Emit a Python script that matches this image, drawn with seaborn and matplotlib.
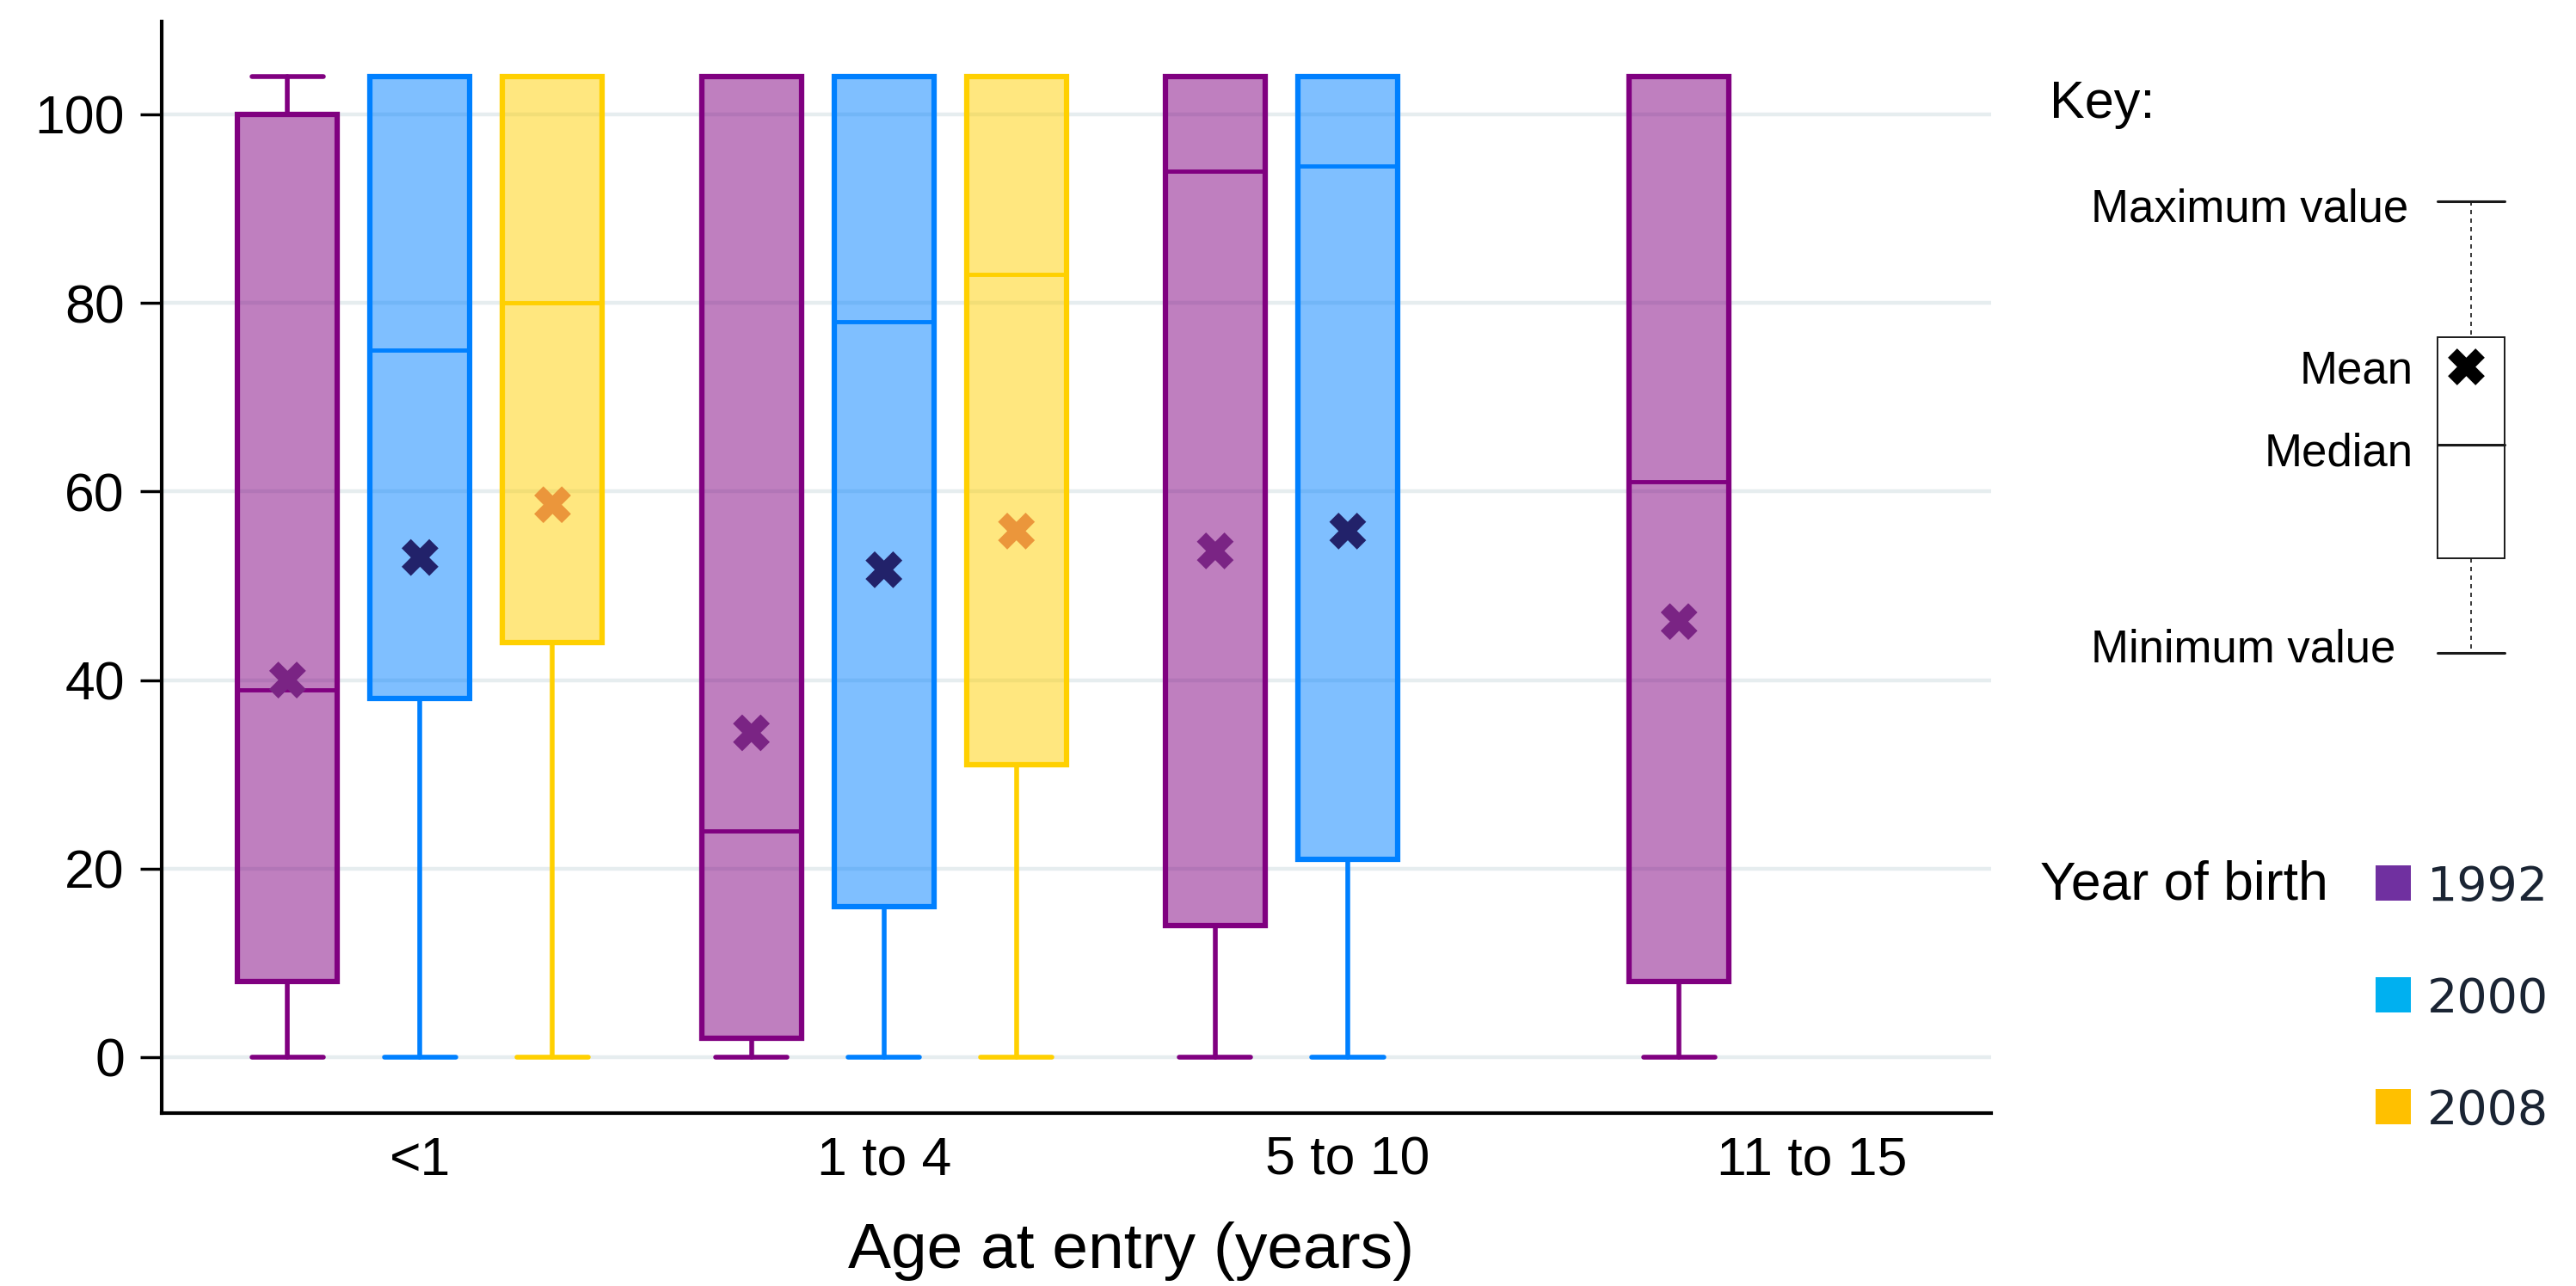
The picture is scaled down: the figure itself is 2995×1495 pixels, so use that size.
import matplotlib
matplotlib.use("Agg")
import matplotlib.pyplot as plt
from matplotlib.colors import to_rgba
from matplotlib.patches import Rectangle
import pandas as pd
import seaborn as sns

# ---- data -------------------------------------------------------------
age_groups = ["<1", "1 to 4", "5 to 10", "11 to 15"]
birth_years = ["1992", "2000", "2008"]

min_1992 = [0, 0, 0, 0]
q1_1992 = [8, 2, 14, 8]
median_1992 = [39, 24, 94, 61]
q3_1992 = [100, 104, 104, 104]
max_1992 = [104, 104, 104, 104]
mean_1992 = [40, 34.4, 53.7, 46.2]

min_2000 = [0, 0, 0, None]
q1_2000 = [38, 16, 21, None]
median_2000 = [75, 78, 94.5, None]
q3_2000 = [104, 104, 104, None]
max_2000 = [104, 104, 104, None]
mean_2000 = [53, 51.7, 55.8, None]

min_2008 = [0, 0, None, None]
q1_2008 = [44, 31, None, None]
median_2008 = [80, 83, None, None]
q3_2008 = [104, 104, None, None]
max_2008 = [104, 104, None, None]
mean_2008 = [58.6, 55.8, None, None]

y_ticks = [0, 20, 40, 60, 80, 100]

# ---- styling ----------------------------------------------------------
edge_colors = {"1992": "#800080", "2000": "#0080ff", "2008": "#ffd000"}
mean_colors = {"1992": "#7a2484", "2000": "#22226a", "2008": "#eb963b"}
legend_colors = {"1992": "#7030a0", "2000": "#00b0f0", "2008": "#ffc000"}

sns.set_theme(style="white")
plt.rcParams["font.family"] = ["Liberation Sans", "DejaVu Sans"]
plt.rcParams["text.color"] = "black"
plt.rcParams["axes.labelcolor"] = "black"
plt.rcParams["xtick.color"] = "black"
plt.rcParams["ytick.color"] = "black"

rows = []
series = {
    "1992": (min_1992, q1_1992, median_1992, q3_1992, max_1992, mean_1992),
    "2000": (min_2000, q1_2000, median_2000, q3_2000, max_2000, mean_2000),
    "2008": (min_2008, q1_2008, median_2008, q3_2008, max_2008, mean_2008),
}
slot = 0.2857
for yi, year in enumerate(birth_years):
    mn, q1, md, q3, mx, mu = series[year]
    for ai, age in enumerate(age_groups):
        if md[ai] is None:
            continue
        rows.append(dict(age=age, year=year, pos=ai + (yi - 1) * slot,
                         whislo=mn[ai], q1=q1[ai], med=md[ai], q3=q3[ai],
                         whishi=mx[ai], mean=mu[ai]))
stats = pd.DataFrame(rows)

fig = plt.figure(figsize=(29.95, 14.95), dpi=100)
W, H = 2995, 1495
ax = fig.add_axes([188 / W, 1 - 1293.6 / H, (2315 - 188) / W, (1293.6 - 24.5) / H])

for year in birth_years:
    sub = stats[stats["year"] == year]
    edge = edge_colors[year]
    box_stats = [dict(whislo=r.whislo, q1=r.q1, med=r.med, q3=r.q3, whishi=r.whishi)
                 for r in sub.itertuples()]
    ax.bxp(box_stats, positions=list(sub["pos"]), widths=0.215, capwidths=0.154,
           showfliers=False, patch_artist=True, manage_ticks=False,
           boxprops=dict(facecolor=to_rgba(edge, 0.5), edgecolor=edge, linewidth=4.5),
           whiskerprops=dict(color=edge, linewidth=4),
           capprops=dict(color=edge, linewidth=4, solid_capstyle="round"),
           medianprops=dict(color=edge, linewidth=3.5))

sns.scatterplot(data=stats, x="pos", y="mean", hue="year", palette=mean_colors,
                marker="X", s=950, linewidth=0, legend=False, zorder=5, ax=ax)

ax.set_xlim(-0.557, 3.387)
ax.set_ylim(-5.9, 109.9)
ax.set_yticks(y_ticks)
ax.set_xticks(range(len(age_groups)))
ax.set_xticklabels(age_groups)
ax.yaxis.grid(True, color="#e6edef", linewidth=3.2)
ax.xaxis.grid(False)
ax.set_axisbelow(True)
ax.set_ylabel("")
ax.set_xlabel("Age at entry (years)", fontsize=54, va="baseline")
ax.xaxis.set_label_coords((1315 - 188) / (2315 - 188), (1293.6 - 1474) / (1293.6 - 24.5))
ax.tick_params(axis="y", left=True, length=18, width=2.5, pad=13, labelsize=45,
               color="black", labelcolor="black")
ax.tick_params(axis="x", bottom=False, length=0, pad=19, labelsize=45, labelcolor="black")
sns.despine(ax=ax)
for side in ("left", "bottom"):
    ax.spines[side].set_color("black")
    ax.spines[side].set_linewidth(3)

# ---- key and legend panel (figure pixel space) ----------------------
ov = fig.add_axes([0, 0, 1, 1], facecolor="none")
ov.set_xlim(0, W)
ov.set_ylim(H, 0)
ov.axis("off")

ov.text(2383, 137, "Key:", fontsize=44, ha="left", va="baseline")
key_fs = 38
ov.text(2800, 258, "Maximum value", fontsize=key_fs, ha="right", va="baseline")
ov.text(2806, 446, "Mean", fontsize=key_fs, ha="right", va="baseline")
ov.text(2806, 542, "Median", fontsize=key_fs, ha="right", va="baseline")
ov.text(2785, 770, "Minimum value", fontsize=key_fs, ha="right", va="baseline")

kc = "#1a1a1a"
kx0, kx1, kxm = 2834, 2912, 2873
ov.plot([kx0, kx1], [234, 234], color=kc, lw=2.2)
ov.plot([kx0, kx1], [759, 759], color=kc, lw=2.2)
ov.plot([kxm, kxm], [234, 392], color=kc, lw=1.2, ls=(0, (3, 3)))
ov.plot([kxm, kxm], [649, 759], color=kc, lw=1.2, ls=(0, (3, 3)))
ov.add_patch(Rectangle((kx0, 392), kx1 - kx0, 649 - 392, facecolor="white",
                       edgecolor=kc, lw=1.4))
ov.plot([kx0, kx1], [517, 517], color=kc, lw=2.2)
ov.scatter([2867], [426], marker="X", s=950, color="black", linewidths=0, zorder=5)

ov.text(2372, 1045, "Year of birth", fontsize=45, ha="left", va="baseline")
for i, year in enumerate(birth_years):
    bottom = 1046.6 + i * 130
    ov.add_patch(Rectangle((2762, bottom - 41), 41, 41, facecolor=legend_colors[year],
                           edgecolor="none"))
    ov.text(2822, bottom, year, fontsize=40, ha="left", va="baseline",
            color="#1a2433", family="DejaVu Sans")

fig.savefig("out.png", dpi=100)
